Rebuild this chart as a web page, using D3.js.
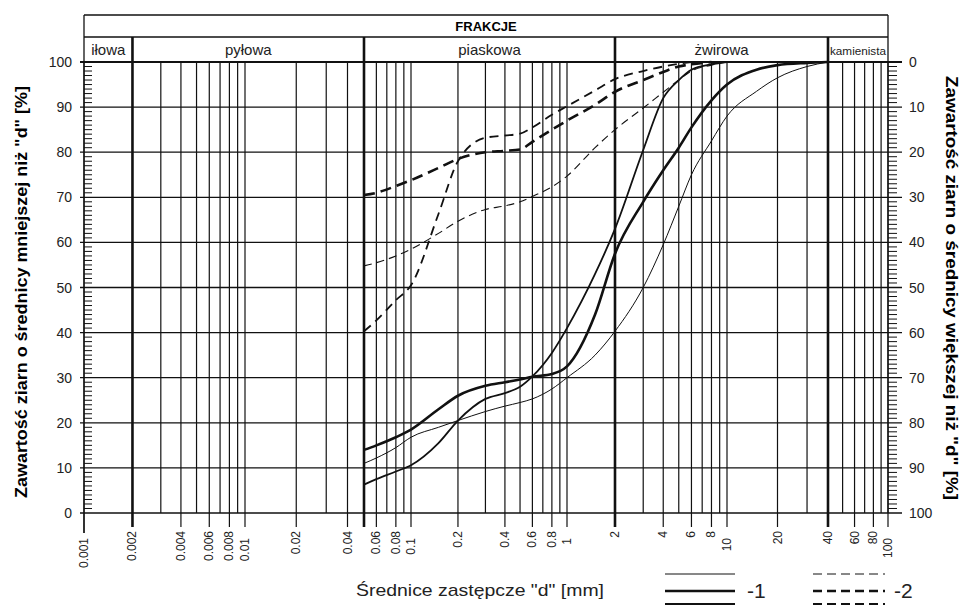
<!DOCTYPE html>
<html lang="pl">
<head>
<meta charset="utf-8">
<title>Krzywe uziarnienia</title>
<script src="https://cdn.jsdelivr.net/npm/d3@7"></script>
<style>
  body { margin: 0; background: #fff; }
  svg { font-family: "Liberation Sans", Arial, sans-serif; }
  .grid line { stroke: #111; }
  .tick-label { font-size: 12px; fill: #222; }
  .ylab { font-size: 14px; fill: #222; }
</style>
</head>
<body>
<script>
// --- data ---
var fractionNames = ["iłowa", "pyłowa", "piaskowa", "żwirowa", "kamienista"];
var fractionEdges = [0.001, 0.002, 0.05, 2, 40, 100];
var xTickLabels = ["0.001", "0.002", "0.004", "0.006", "0.008", "0.01", "0.02", "0.04",
                   "0.06", "0.08", "0.1", "0.2", "0.4", "0.6", "0.8", "1",
                   "2", "4", "6", "8", "10", "20", "40", "60", "80", "100"];
var yTicks = [0, 10, 20, 30, 40, 50, 60, 70, 80, 90, 100];

var sieveD = [0.05, 0.06, 0.08, 0.1, 0.15, 0.2, 0.3, 0.4, 0.5, 0.6, 0.8, 1, 1.5, 2, 3, 4, 5, 6, 8, 10, 15, 20, 30, 40];
// solid curves (1)
var solidThin   = [11, 12.2, 14.5, 16.8, 19, 20.5, 22.5, 23.7, 24.5, 25.3, 27.5, 30, 35, 40.3, 50, 59.5, 68, 75, 82.5, 88, 93.5, 96.5, 99, 100];
var solidThick  = [14, 15, 16.8, 18.5, 23, 26, 28.2, 29, 29.6, 30.2, 30.8, 32.5, 44, 57.5, 69, 76, 81, 85.5, 91.5, 95, 98.3, 99.3, 99.8, 100];
var solidMedium = [6.3, 7.5, 9.2, 10.6, 15.5, 20.5, 25.3, 26.6, 28, 30.3, 35.5, 41, 53, 63, 80.5, 92, 96, 98.3, 99.5, 100, null, null, null, null];
// dashed curves (2)
var dashThin    = [54.8, 55.5, 57, 58.5, 62, 64.7, 67.3, 68.1, 69, 70.2, 72.3, 74.7, 81, 85, 89.8, 93.3, 96, 98, 99.3, 100, null, null, null, null];
var dashThick   = [70.5, 71, 72.5, 73.8, 76.5, 78.5, 80, 80.3, 80.6, 82.3, 85, 87, 90.5, 93.4, 96, 97.8, 99, 99.5, 100, null, null, null, null, null];
var dashMedium  = [40.3, 42.7, 47.2, 50.5, 66.3, 78, 83.2, 83.7, 84.1, 85.5, 88.3, 90.2, 93.7, 96.2, 98, 99, 99.6, 100, null, null, null, null, null, null];

var W = 967, H = 605;
var svg = d3.select("body").append("svg").attr("width", W).attr("height", H);

// log scale, pinned at a few points so it follows the printed sheet
var x = d3.scaleLog()
    .domain([0.001, 0.01, 0.05, 0.1, 1, 2, 10, 40, 100])
    .range([84, 245, 364, 411, 567, 615, 727, 828, 888]);
var y = d3.scaleLinear().domain([0, 100]).range([513, 62]);
var yRight = d3.scaleLinear().domain([100, 0]).range([513, 62]);

var left = x(0.001), right = x(100);
var headTop = 15, headMid = 37;

// vertical grid lines
var gridD = x.ticks();
var labelled = xTickLabels.map(Number);
var thick = fractionEdges.slice(1, 5);
var g = svg.append("g").attr("class", "grid");
g.selectAll("line.v").data(gridD).enter().append("line")
    .attr("x1", function(d) { return x(d); })
    .attr("x2", function(d) { return x(d); })
    .attr("y1", function(d) { return thick.indexOf(d) >= 0 ? headMid : y(100); })
    .attr("y2", function(d) {
        if (d === 0.001) return 533;
        return (labelled.indexOf(d) >= 0 || thick.indexOf(d) >= 0) ? 527 : y(0);
    })
    .attr("stroke-width", function(d) { return thick.indexOf(d) >= 0 ? 2.6 : 1.2; });

// horizontal grid lines
g.selectAll("line.h").data(yTicks).enter().append("line")
    .attr("x1", left - 4).attr("x2", right + 14)
    .attr("y1", function(d) { return y(d); })
    .attr("y2", function(d) { return y(d); })
    .attr("stroke-width", function(d) { return d === 100 ? 1.8 : 1.3; });

// minor ticks every 1 %
var minor = d3.range(1, 100).filter(function(v) { return v % 10 !== 0; });
g.selectAll("line.ml").data(minor).enter().append("line")
    .attr("x1", left).attr("x2", left + 8)
    .attr("y1", function(d) { return y(d); }).attr("y2", function(d) { return y(d); })
    .attr("stroke-width", 1);
g.selectAll("line.mr").data(minor).enter().append("line")
    .attr("x1", right).attr("x2", right + 9)
    .attr("y1", function(d) { return y(d); }).attr("y2", function(d) { return y(d); })
    .attr("stroke-width", 1);

// frame + header
svg.append("line").attr("x1", right).attr("x2", right).attr("y1", headTop).attr("y2", y(0))
    .attr("stroke", "#111").attr("stroke-width", 1.3);
svg.append("line").attr("x1", left).attr("x2", left).attr("y1", headTop).attr("y2", 533)
    .attr("stroke", "#111").attr("stroke-width", 1.3);
svg.append("line").attr("x1", left).attr("x2", right).attr("y1", headTop).attr("y2", headTop)
    .attr("stroke", "#111").attr("stroke-width", 1.3);
svg.append("line").attr("x1", left).attr("x2", right).attr("y1", headMid).attr("y2", headMid)
    .attr("stroke", "#111").attr("stroke-width", 1.3);

svg.append("text").attr("x", (left + right) / 2).attr("y", 31)
    .attr("text-anchor", "middle").attr("font-weight", "bold").attr("font-size", 13)
    .text("FRAKCJE");

svg.selectAll("text.frac").data(fractionNames).enter().append("text")
    .attr("x", function(d, i) { return (x(fractionEdges[i]) + x(fractionEdges[i + 1])) / 2; })
    .attr("y", 55)
    .attr("text-anchor", "middle")
    .attr("font-size", function(d) { return d === "kamienista" ? 11 : 15; })
    .attr("textLength", function(d) { return d === "kamienista" ? 56 : null; })
    .attr("lengthAdjust", "spacingAndGlyphs")
    .attr("fill", "#222")
    .text(function(d) { return d; });

// y labels
svg.selectAll("text.yl").data(yTicks).enter().append("text")
    .attr("class", "ylab").attr("x", 72).attr("y", function(d) { return y(d) + 5; })
    .attr("text-anchor", "end").text(function(d) { return d; });
svg.selectAll("text.yr").data(yTicks).enter().append("text")
    .attr("class", "ylab").attr("x", 909).attr("y", function(d) { return yRight(d) + 5; })
    .attr("text-anchor", "start").text(function(d) { return d; });

// x labels (rotated)
svg.selectAll("text.xl").data(xTickLabels).enter().append("text")
    .attr("class", "tick-label")
    .attr("transform", function(d) {
        var v = +d, dec = Math.abs(Math.log10(v) - Math.round(Math.log10(v))) < 1e-9;
        return "translate(" + (x(v) + 4) + "," + (dec ? 538 : 531) + ") rotate(-90)";
    })
    .attr("text-anchor", "end")
    .text(function(d) { return d; });

// axis titles
svg.append("text").attr("transform", "translate(27,292) rotate(-90)")
    .attr("text-anchor", "middle").attr("font-weight", "bold").attr("font-size", 16)
    .attr("textLength", 412).attr("lengthAdjust", "spacingAndGlyphs")
    .text("Zawartość ziarn o średnicy mniejszej niż \"d\" [%]");
svg.append("text").attr("transform", "translate(946,288) rotate(90)")
    .attr("text-anchor", "middle").attr("font-weight", "bold").attr("font-size", 16)
    .attr("textLength", 424).attr("lengthAdjust", "spacingAndGlyphs")
    .text("Zawartość ziarn o średnicy większej niż \"d\" [%]");
svg.append("text").attr("x", 356).attr("y", 596)
    .attr("font-size", 17).attr("fill", "#222")
    .attr("textLength", 248).attr("lengthAdjust", "spacingAndGlyphs")
    .text("Średnice zastępcze \"d\"  [mm]");

// curves
var line = d3.line()
    .defined(function(d) { return d[1] != null; })
    .x(function(d) { return x(d[0]); })
    .y(function(d) { return y(d[1]); })
    .curve(d3.curveMonotoneX);

var series = [
    { v: solidThin,   w: 1.0, dash: null },
    { v: solidMedium, w: 1.8, dash: null },
    { v: solidThick,  w: 2.6, dash: null },
    { v: dashThin,    w: 1.1, dash: "8,5" },
    { v: dashMedium,  w: 1.8, dash: "9,6" },
    { v: dashThick,   w: 2.6, dash: "11,6" }
];
svg.selectAll("path.curve").data(series).enter().append("path")
    .attr("fill", "none").attr("stroke", "#111")
    .attr("stroke-width", function(s) { return s.w; })
    .attr("stroke-dasharray", function(s) { return s.dash; })
    .attr("d", function(s) {
        return line(sieveD.map(function(d, i) { return [d, s.v[i]]; }));
    });

// legend
var legRows = [574, 591, 604];
var legW = [1.0, 2.6, 1.8];
legRows.forEach(function(ly, i) {
    svg.append("line").attr("x1", 665).attr("x2", 735).attr("y1", ly).attr("y2", ly)
        .attr("stroke", "#111").attr("stroke-width", legW[i]);
    svg.append("line").attr("x1", 813).attr("x2", 885).attr("y1", ly).attr("y2", ly)
        .attr("stroke", "#111").attr("stroke-width", legW[i]).attr("stroke-dasharray", "9,5");
});
svg.append("text").attr("x", 747).attr("y", 598).attr("font-size", 21).attr("fill", "#222").text("-1");
svg.append("text").attr("x", 894).attr("y", 598).attr("font-size", 21).attr("fill", "#222").text("-2");
</script>
</body>
</html>
